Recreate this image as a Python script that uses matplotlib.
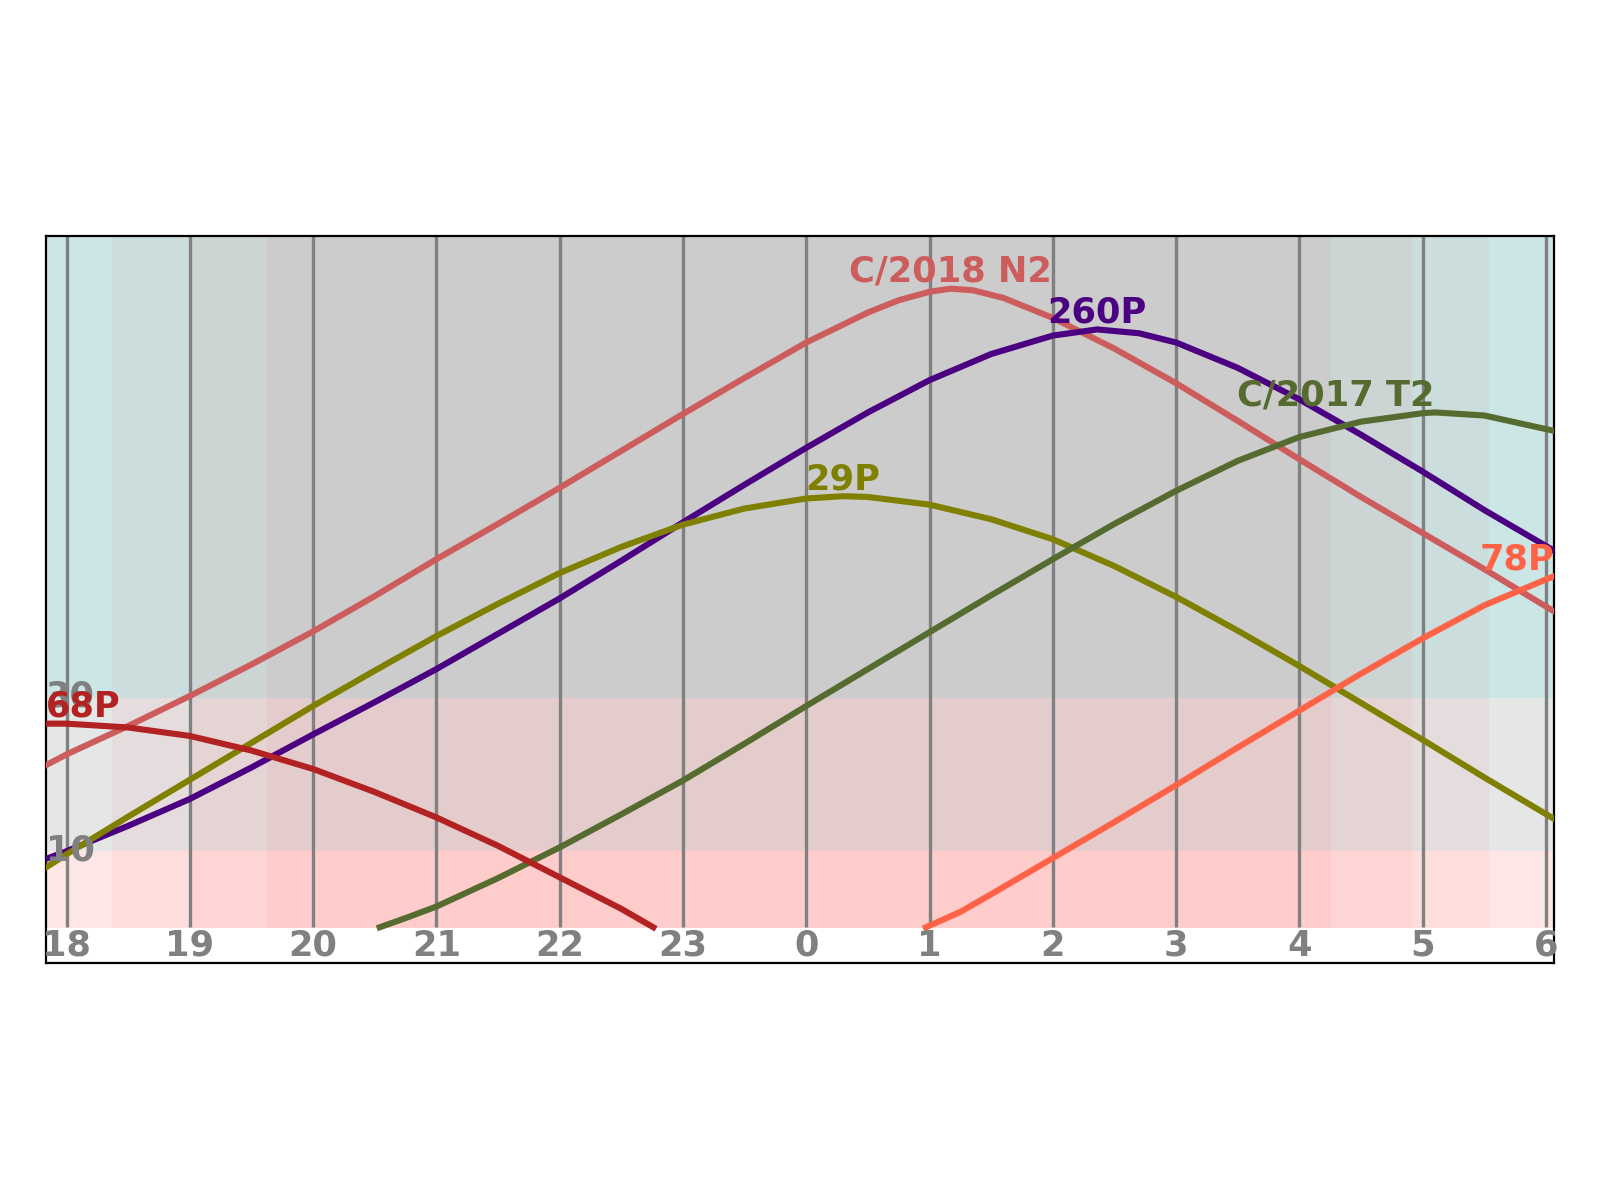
import matplotlib
matplotlib.use("Agg")
import matplotlib.pyplot as plt
from matplotlib.patches import Rectangle
import numpy as np

# --- DATA ---
# time axis in continuous hours (24 = midnight, 30 = 6h next morning)
t_start = 17.834
t_end = 30.066
hour_ticks = list(range(18, 31))

# twilight segments: edges and shade level (0 = civil ... 3 = night)
twilight_edges = [17.834, 18.365, 19.0, 19.628, 28.26, 28.91, 29.54, 30.066]
twilight_level = [0, 1, 2, 3, 2, 1, 0]

# altitude bands (deg)
band_edges = [0, 10, 30, 90]
band_labels = [10, 30]

comets = ["C/2018 N2", "260P", "29P", "C/2017 T2", "68P", "78P"]

c2018_t = [17.834, 18, 18.5, 19, 19.5, 20, 20.5, 21, 21.5, 22, 22.5, 23, 23.5, 24,
           24.5, 24.75, 25, 25.17, 25.35, 25.6, 26, 26.5, 27, 27.5, 28, 28.5, 29, 29.5, 30.066]
c2018_alt = [21.1, 22.5, 26.2, 30.1, 34.2, 38.5, 43.1, 47.9, 52.5, 57.2, 62.0, 66.8, 71.5, 76.1,
             80.0, 81.6, 82.7, 83.1, 82.9, 81.9, 79.3, 75.3, 70.8, 65.9, 60.9, 56.0, 51.3, 46.6, 41.1]

p260_t = [17.834, 18, 18.5, 19, 19.5, 20, 20.5, 21, 21.5, 22, 22.5, 23, 23.5, 24, 24.5, 25,
          25.5, 26, 26.36, 26.7, 27, 27.5, 28, 28.5, 29, 29.5, 30.066]
p260_alt = [8.9, 9.9, 13.2, 16.7, 20.8, 25.1, 29.3, 33.6, 38.2, 42.8, 47.7, 52.7, 57.6, 62.4, 67.0, 71.2,
            74.6, 77.0, 77.8, 77.3, 76.1, 72.8, 68.7, 64.1, 59.3, 54.3, 49.0]

p29_t = [17.834, 18, 18.5, 19, 19.5, 20, 20.5, 21, 21.5, 22, 22.5, 23, 23.5, 24, 24.3, 24.5,
         25, 25.5, 26, 26.5, 27, 27.5, 28, 28.5, 29, 29.5, 30.066]
p29_alt = [7.8, 9.5, 14.4, 19.2, 24.0, 28.8, 33.4, 37.9, 42.1, 46.1, 49.5, 52.4, 54.5, 55.8, 56.1, 56.0,
           55.0, 53.1, 50.5, 47.0, 43.0, 38.6, 34.0, 29.2, 24.4, 19.5, 14.1]

c2017_t = [20.54, 20.75, 21, 21.5, 22, 22.5, 23, 23.5, 24, 24.5, 25, 25.5, 26, 26.5, 27, 27.5,
           28, 28.5, 29, 29.1, 29.5, 30.066]
c2017_alt = [0.0, 1.2, 2.7, 6.4, 10.4, 14.7, 19.1, 23.9, 28.8, 33.6, 38.4, 43.2, 47.9, 52.5, 56.8, 60.7,
             63.8, 65.8, 66.9, 67.0, 66.6, 64.6]

p68_t = [17.834, 18, 18.5, 19, 19.5, 20, 20.5, 21, 21.5, 22, 22.5, 22.76]
p68_alt = [26.5, 26.5, 26.0, 24.9, 23.0, 20.6, 17.6, 14.3, 10.6, 6.5, 2.4, 0.0]

p78_t = [24.97, 25.25, 25.5, 26, 26.5, 27, 27.5, 28, 28.5, 29, 29.5, 30.066]
p78_alt = [0.0, 2.0, 4.3, 9.0, 13.7, 18.5, 23.4, 28.2, 33.0, 37.6, 41.9, 45.7]

# --- STYLE ---
comet_colors = ["indianred", "indigo", "olive", "darkolivegreen", "firebrick", "tomato"]
label_align = ["center", "center", "center", "right", "left", "right"]
band_red = [255, 229, 204]          # red channel per altitude band
level_gb = [230, 221, 212, 204]     # green/blue channel per twilight level
fs = 12.7

series = [(c2018_t, c2018_alt), (p260_t, p260_alt), (p29_t, p29_alt),
          (c2017_t, c2017_alt), (p68_t, p68_alt), (p78_t, p78_alt)]

fig = plt.figure(figsize=(8, 6), dpi=200)
ax = fig.add_axes([0.0288, 0.1978, 0.9425, 0.6058])
ax.set_xlim(t_start, t_end)
ax.set_ylim(-4.6, 90)

# background: twilight columns x altitude bands
for i in range(len(twilight_level)):
    x0, x1 = twilight_edges[i], twilight_edges[i + 1]
    gb = level_gb[twilight_level[i]] / 255
    for j in range(len(band_red)):
        y0, y1 = band_edges[j], band_edges[j + 1]
        col = (band_red[j] / 255, gb, gb)
        ax.add_patch(Rectangle((x0, y0), x1 - x0, y1 - y0, facecolor=col,
                               edgecolor=col, lw=0.3, zorder=0))

# hour lines
ax.vlines(hour_ticks, 0, 90, colors="gray", lw=1.2, zorder=1)

for name, (t, alt), c, ha in zip(comets, series, comet_colors, label_align):
    ax.plot(t, alt, color=c, lw=2.2, zorder=3, solid_joinstyle="round")
    k = int(np.argmax(alt))
    ax.text(t[k], alt[k], name, color=c, fontsize=fs, fontweight="bold",
            ha=ha, va="bottom", zorder=5)

for h in hour_ticks:
    ax.text(h, -0.2, str(h % 24), color="gray", fontsize=fs, fontweight="bold",
            ha="center", va="top", zorder=4)

for b in band_labels:
    ax.text(t_start, b, str(b), color="gray", fontsize=fs, fontweight="bold",
            ha="left", va="center", zorder=4)

ax.set_xticks([])
ax.set_yticks([])
for s in ax.spines.values():
    s.set_color("black")

plt.savefig("out.png", dpi=200)
plt.close()
